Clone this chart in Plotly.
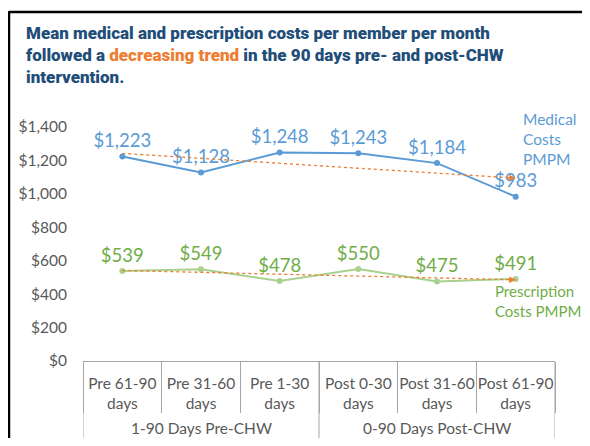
import numpy as np
import plotly.graph_objects as go

groups = ["1-90 Days Pre-CHW", "0-90 Days Post-CHW"]
periods = ["Pre 61-90<br>days", "Pre 31-60<br>days", "Pre 1-30<br>days",
           "Post 0-30<br>days", "Post 31-60<br>days", "Post 61-90<br>days"]
medical = [1223, 1128, 1248, 1243, 1184, 983]
prescription = [539, 549, 478, 550, 475, 491]
y_ticks = [0, 200, 400, 600, 800, 1000, 1200, 1400]

BLUE = "#5B9BD5"
GREEN_LINE = "#A9D18E"
GREEN_TEXT = "#70AD47"
ORANGE = "#ED7D31"
GRAY_TXT = "#595959"
AXIS_GRAY = "#A6A6A6"
FONT = "Lato"

# the page shows the figure offset by the browser's 8px body margin
OFF = 8
W, H = 590 - 2 * OFF, 446 - 2 * OFF
PL, PR, PT, PB = 83, 555, 127, 361   # plot box in screenshot pixels
L, T = PL - OFF, PT - OFF
R, B = W - (PR - OFF), H - (PB - OFF)
pw, ph = PR - PL, PB - PT


def px(x):
    return (x - PL) / pw


def py(y):
    return (PB - y) / ph


fig = go.Figure()

fig.add_trace(go.Scatter(
    x=periods, y=medical, mode="lines+markers+text",
    line=dict(color=BLUE, width=2), marker=dict(color=BLUE, size=6),
    text=[f"${v:,}" for v in medical], textposition="top center",
    textfont=dict(color=BLUE, size=18.5, family=FONT), cliponaxis=False,
    showlegend=False))
fig.add_trace(go.Scatter(
    x=periods, y=prescription, mode="lines+markers+text",
    line=dict(color=GREEN_LINE, width=2), marker=dict(color=GREEN_LINE, size=6),
    text=[f"${v:,}" for v in prescription], textposition="top center",
    textfont=dict(color=GREEN_TEXT, size=18.5, family=FONT), cliponaxis=False,
    showlegend=False))

# linear trendlines (least squares over the six periods)
idx = np.arange(len(medical))
for series in (medical, prescription):
    k, c = np.polyfit(idx, series, 1)
    ys = [c, c + k * idx[-1]]
    fig.add_trace(go.Scatter(
        x=[idx[0], idx[-1]], y=ys, xaxis="x2", mode="lines",
        line=dict(color=ORANGE, width=1.3, dash="dot"),
        showlegend=False, hoverinfo="skip"))
    fig.add_annotation(
        x=idx[-1], y=ys[1], ax=idx[-1] - 0.12, ay=ys[1] - k * 0.12,
        xref="x2", yref="y", axref="x2", ayref="y", text="",
        showarrow=True, arrowhead=2, arrowsize=1, arrowwidth=1.3,
        arrowcolor=ORANGE)

fig.update_layout(
    width=W, height=H,
    margin=dict(l=L, r=R, t=T, b=B, autoexpand=False),
    paper_bgcolor="white", plot_bgcolor="white",
    font=dict(family=FONT, color=GRAY_TXT, size=15.5),
    xaxis=dict(
        type="category", range=[-0.5, 5.5], tickangle=0,
        showline=True, linecolor=AXIS_GRAY, linewidth=1,
        ticks="outside", tickson="boundaries", ticklen=51, tickcolor=AXIS_GRAY,
        ticklabelstandoff=8,
        showgrid=False, tickfont=dict(size=15.5, color=GRAY_TXT, family=FONT)),
    xaxis2=dict(overlaying="x", range=[-0.5, 5.5], visible=False),
    yaxis=dict(
        range=[0, 1400], tickvals=y_ticks, tickformat="$,.0f",
        showgrid=False, zeroline=False, showline=False,
        ticklabelstandoff=15,
        tickfont=dict(size=15.5, color=GRAY_TXT, family=FONT)),
)

# group level of the category axis
for i, g in enumerate(groups):
    fig.add_annotation(
        text=g, xref="x2", yref="paper", x=3 * i + 1, y=py(428),
        yanchor="middle", showarrow=False,
        font=dict(size=15.5, color=GRAY_TXT, family=FONT))
for b in (-0.5, 2.5, 5.5):
    fig.add_shape(type="line", xref="x2", yref="paper", x0=b, x1=b,
                  y0=0, y1=py(460), line=dict(color=AXIS_GRAY, width=1))

# title
fig.add_annotation(
    text=("Mean medical and prescription costs per member per month<br>"
          "followed a <span style='color:#ED7D31'>decreasing trend</span> "
          "in the 90 days pre- and post-CHW<br>intervention."),
    xref="paper", yref="paper", x=px(24), y=py(21),
    xanchor="left", yanchor="top", align="left", showarrow=False,
    font=dict(family="Roboto", size=17, color="#1F4E79", weight=900))

fig.add_annotation(
    text="Medical<br>Costs<br>PMPM", xref="paper", yref="paper",
    x=px(521), y=py(108),
    xanchor="left", yanchor="top", align="left", showarrow=False,
    font=dict(color=BLUE, size=15.5, family=FONT))
fig.add_annotation(
    text="Prescription<br>Costs PMPM", xref="paper", yref="paper",
    x=px(493), y=py(280),
    xanchor="left", yanchor="top", align="left", showarrow=False,
    font=dict(color=GREEN_TEXT, size=15, family=FONT))

# black frame on top and left edge
fig.add_shape(type="line", xref="paper", yref="paper",
              x0=px(9), x1=px(610), y0=py(12), y1=py(12),
              line=dict(color="black", width=2.5))
fig.add_shape(type="line", xref="paper", yref="paper",
              x0=px(9), x1=px(9), y0=py(11), y1=py(470),
              line=dict(color="black", width=2.5))

fig.write_html("out.html")
